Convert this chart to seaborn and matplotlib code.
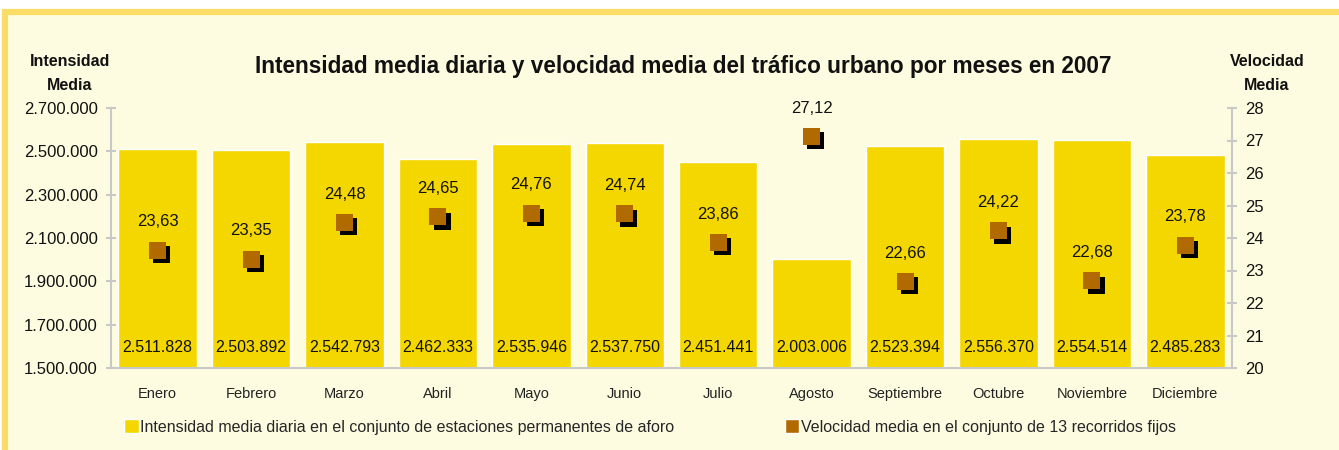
import numpy as np
import pandas as pd
import seaborn as sns
import matplotlib.pyplot as plt
from matplotlib.patches import Rectangle
from matplotlib.ticker import FuncFormatter, MultipleLocator, FixedLocator
import matplotlib.patheffects as pe

# Data
meses = ["Enero", "Febrero", "Marzo", "Abril", "Mayo", "Junio", "Julio",
         "Agosto", "Septiembre", "Octubre", "Noviembre", "Diciembre"]
intensidad = [2511828, 2503892, 2542793, 2462333, 2535946, 2537750,
              2451441, 2003006, 2523394, 2556370, 2554514, 2485283]
velocidad = [23.63, 23.35, 24.48, 24.65, 24.76, 24.74,
             23.86, 27.12, 22.66, 24.22, 22.68, 23.78]

df = pd.DataFrame({"mes": meses, "intensidad": intensidad, "velocidad": velocidad})

sns.set_style("white")
plt.rcParams["font.family"] = ["Liberation Sans", "DejaVu Sans"]

bg = "#FEFCE0"
bar_col = "#F5D700"
mk_col = "#B06A00"
grey = "#C8C8C8"

fig = plt.figure(figsize=(13.39, 4.5), dpi=100)
fig.patch.set_facecolor("white")
# framed background
fig.patches.append(Rectangle((5 / 1339, -0.05), 1.05, 1.05 - 12 / 450,
                             transform=fig.transFigure, facecolor=bg,
                             edgecolor="#F9DD66", linewidth=4.5, zorder=-10))

ax = fig.add_axes([111 / 1339, 1 - 368 / 450, (1232 - 111) / 1339, 260 / 450])
ax.set_facecolor("none")
sns.barplot(data=df, x="mes", y="intensidad", color=bar_col, saturation=1,
            width=0.84, ax=ax, zorder=2)
ax.set_ylim(1500000, 2700000)
ax.set_xlim(-0.5, 11.5)
ax.yaxis.set_major_locator(FixedLocator(np.arange(1500000, 2700001, 200000)))
ax.yaxis.set_major_formatter(FuncFormatter(lambda v, p: f"{v:,.0f}".replace(",", ".")))
ax.set_xlabel("")
ax.set_ylabel("")

for i, v in enumerate(intensidad):
    ax.annotate(f"{v:,}".replace(",", "."), (i, 1500000), xytext=(0, 9),
                textcoords="offset points", ha="center", va="bottom", fontsize=11.5,
                color="#111111", zorder=5)

ax2 = ax.twinx()
ax2.set_facecolor("none")
sns.scatterplot(data=df, x="mes", y="velocidad", marker="s", s=150, color=mk_col,
                edgecolor="none", ax=ax2, zorder=4,
                path_effects=[pe.SimplePatchShadow(offset=(3, -3), shadow_rgbFace="black", alpha=1),
                              pe.Normal()])
ax2.set_ylim(20, 28)
ax2.yaxis.set_major_locator(MultipleLocator(1))
ax2.set_ylabel("")
ax2.set_xlim(-0.5, 11.5)
for i, v in enumerate(velocidad):
    ax2.annotate(f"{v:.2f}".replace(".", ","), (i, v), xytext=(0, 15),
                 textcoords="offset points", ha="center", va="bottom", fontsize=12,
                 color="#111111")

for a in (ax, ax2):
    for s in a.spines.values():
        s.set_visible(False)
ax.spines["left"].set_visible(True)
ax.spines["bottom"].set_visible(True)
ax2.spines["right"].set_visible(True)
for s in (ax.spines["left"], ax.spines["bottom"], ax2.spines["right"]):
    s.set_color(grey)
    s.set_linewidth(1.5)

ax.tick_params(axis="y", direction="inout", length=7, width=1.5, color=grey,
               labelsize=12, pad=6, labelcolor="#111111")
ax2.tick_params(axis="y", direction="inout", length=7, width=1.5, color=grey,
                labelsize=12, pad=6, labelcolor="#111111")
ax.xaxis.set_minor_locator(FixedLocator(np.arange(-0.5, 12, 1)))
ax.tick_params(axis="x", which="major", length=0, labelsize=10.5, pad=14,
               labelcolor="#222222")
ax.tick_params(axis="x", which="minor", direction="inout", length=7, width=1.5,
               color=grey)

fig.text(683 / 1339, 1 - 66 / 450,
         "Intensidad media diaria y velocidad media del tráfico urbano por meses en 2007",
         ha="center", va="center", fontsize=16.3, fontweight="bold", color="#111111")
fig.text(70 / 1339, 1 - 73 / 450, "Intensidad\nMedia", ha="center", va="center",
         fontsize=11.5, fontweight="bold", linespacing=1.75, color="#111111")
fig.text(1267 / 1339, 1 - 73 / 450, "Velocidad\nMedia", ha="center", va="center",
         fontsize=11.5, fontweight="bold", linespacing=1.75, color="#111111")

handles = [Rectangle((0, 0), 1, 1, facecolor=bar_col),
           Rectangle((0, 0), 1, 1, facecolor=mk_col)]
labels = ["Intensidad media diaria en el conjunto de estaciones permanentes de aforo",
          "Velocidad media en el conjunto de 13 recorridos fijos"]
fig.legend(handles, labels, loc="center", bbox_to_anchor=(650 / 1339, 1 - 427 / 450),
           ncol=2, frameon=False, fontsize=11.5, handlelength=0.9, handleheight=0.9,
           handletextpad=0.1, columnspacing=6.9)

fig.savefig("out.png", dpi=100, facecolor=fig.get_facecolor())
